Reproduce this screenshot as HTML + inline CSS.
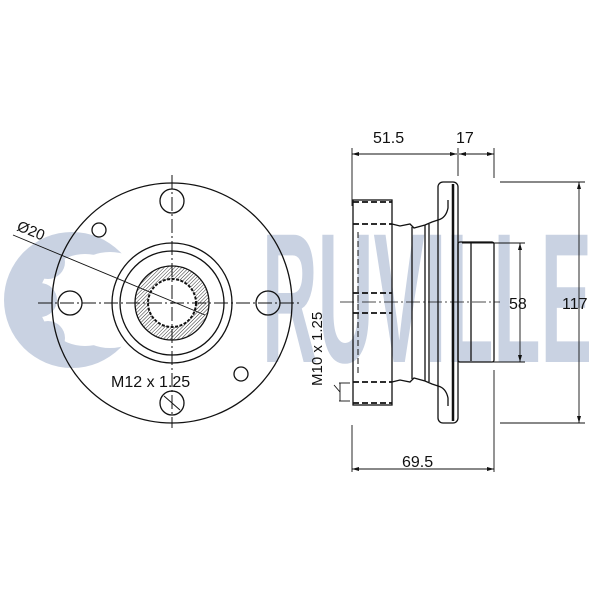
<!DOCTYPE html>
<html><head><style>
html,body{margin:0;padding:0;background:#fff;}
svg{display:block;}
text{font-family:"Liberation Sans",sans-serif;fill:#111;}
</style></head><body>
<svg width="600" height="600" viewBox="0 0 600 600" xmlns="http://www.w3.org/2000/svg">
<defs>
<pattern id="h" width="2.5" height="2.5" patternUnits="userSpaceOnUse" patternTransform="rotate(45)">
<rect width="2.5" height="2.5" fill="#fff"/><line x1="0" y1="0" x2="0" y2="2.5" stroke="#333" stroke-width="1"/>
</pattern>
</defs>
<!-- watermark -->
<g fill="#c9d2e2">
<circle cx="72" cy="300" r="68"/>
<circle cx="85" cy="300" r="46" fill="#fff"/>
<circle cx="48" cy="262" r="17"/>
<circle cx="40" cy="300" r="17"/>
<circle cx="48" cy="338" r="17"/>
<circle cx="110" cy="300" r="48" fill="#fff"/>
<text x="262" y="362" font-size="185" font-weight="bold" textLength="330" lengthAdjust="spacingAndGlyphs" style="fill:#c9d2e2">RUVILLE</text>
</g>
<g stroke="#111" fill="none" stroke-width="1.3">
<!-- front view -->
<circle cx="172" cy="303" r="120"/>
<circle cx="172" cy="201" r="12"/>
<circle cx="70" cy="303" r="12"/>
<circle cx="268" cy="303" r="12"/>
<circle cx="172" cy="403" r="12"/>
<line x1="164" y1="396" x2="180" y2="410" stroke-width="1"/>
<circle cx="99" cy="230" r="7"/>
<circle cx="241" cy="374" r="7"/>
<circle cx="172" cy="303" r="60"/>
<circle cx="172" cy="303" r="52"/>
<circle cx="172" cy="303" r="37" fill="url(#h)"/>
<circle cx="172" cy="303" r="24" fill="#fff" stroke-dasharray="3 1.5" stroke-width="2"/>
<circle cx="172" cy="303" r="22" fill="#fff" stroke="none"/>
<line x1="172" y1="175" x2="172" y2="428" stroke-width="1" stroke-dasharray="14 3 2 3"/>
<line x1="38" y1="303" x2="300" y2="303" stroke-width="1" stroke-dasharray="14 3 2 3"/>
<line x1="13" y1="235" x2="205" y2="315" stroke-width="0.9"/>
<!-- side view -->
<rect x="353" y="200" width="39" height="205"/>
<g stroke-dasharray="6 3" stroke-width="1.8">
<line x1="353" y1="202" x2="392" y2="202"/>
<line x1="353" y1="224" x2="392" y2="224"/>
<line x1="353" y1="293" x2="392" y2="293"/>
<line x1="353" y1="313" x2="392" y2="313"/>
<line x1="353" y1="382" x2="392" y2="382"/>
<line x1="353" y1="403" x2="392" y2="403"/>
<line x1="358" y1="232" x2="358" y2="373" stroke-width="1"/>
</g>
<path d="M392 224 L400 226 L410 224 L414 228 L425 225 L432 222 L438 220"/>
<path d="M392 382 L400 380 L410 382 L414 378 L425 381 L432 384 L438 386"/>
<line x1="412" y1="227" x2="412" y2="379"/>
<line x1="425" y1="225" x2="425" y2="381"/>
<line x1="429" y1="224" x2="429" y2="382"/>
<path d="M438 220 Q446 218 448 208 L448 200"/>
<path d="M438 386 Q446 388 448 398 L448 406"/>
<rect x="438" y="182" width="20" height="241" rx="5"/>
<line x1="453" y1="184" x2="453" y2="421" stroke-width="2.5"/>
<rect x="458" y="242" width="36" height="120" rx="2"/>
<line x1="471" y1="243" x2="471" y2="361"/>
<line x1="340" y1="302" x2="500" y2="302" stroke-width="0.8" stroke-dasharray="14 3 2 3"/>
<!-- dims -->
<g stroke-width="0.9">
<line x1="352" y1="148" x2="352" y2="206"/>
<line x1="352" y1="425" x2="352" y2="472"/>
<line x1="458" y1="148" x2="458" y2="176"/>
<line x1="494" y1="148" x2="494" y2="178"/>
<line x1="494" y1="370" x2="494" y2="472"/>
<line x1="352" y1="154" x2="457" y2="154"/>
<line x1="459" y1="154" x2="494" y2="154"/>
<line x1="352" y1="469" x2="494" y2="469"/>
<line x1="500" y1="182" x2="585" y2="182"/>
<line x1="500" y1="423" x2="585" y2="423"/>
<line x1="579" y1="182" x2="579" y2="423"/>
<line x1="462" y1="243" x2="525" y2="243"/>
<line x1="462" y1="362" x2="525" y2="362"/>
<line x1="520" y1="243" x2="520" y2="362"/>
<line x1="339" y1="383" x2="350" y2="383"/>
<line x1="339" y1="401" x2="350" y2="401"/>
<line x1="340" y1="383" x2="340" y2="401"/>
<line x1="334" y1="385" x2="340" y2="392"/>
</g>
</g>
<g fill="#111">
<path d="M352 154 l7 -2 v4z M457 154 l-7 -2 v4z M459 154 l7 -2 v4z M494 154 l-7 -2 v4z"/>
<path d="M352 469 l7 -2 v4z M494 469 l-7 -2 v4z"/>
<path d="M579 182 l-2 7 h4z M579 423 l-2 -7 h4z M520 243 l-2 7 h4z M520 362 l-2 -7 h4z"/>
</g>
<text x="373" y="143" font-size="16">51.5</text>
<text x="456" y="143" font-size="16">17</text>
<text x="402" y="467" font-size="16">69.5</text>
<text x="509" y="309" font-size="16">58</text>
<text x="562" y="309" font-size="16">117</text>
<text x="111" y="387" font-size="16">M12 x 1.25</text>
<text transform="translate(322,386) rotate(-90)" font-size="15">M10 x 1.25</text>
<text transform="translate(16,230) rotate(22)" font-size="15">Ø20</text>
</svg>
</body></html>
